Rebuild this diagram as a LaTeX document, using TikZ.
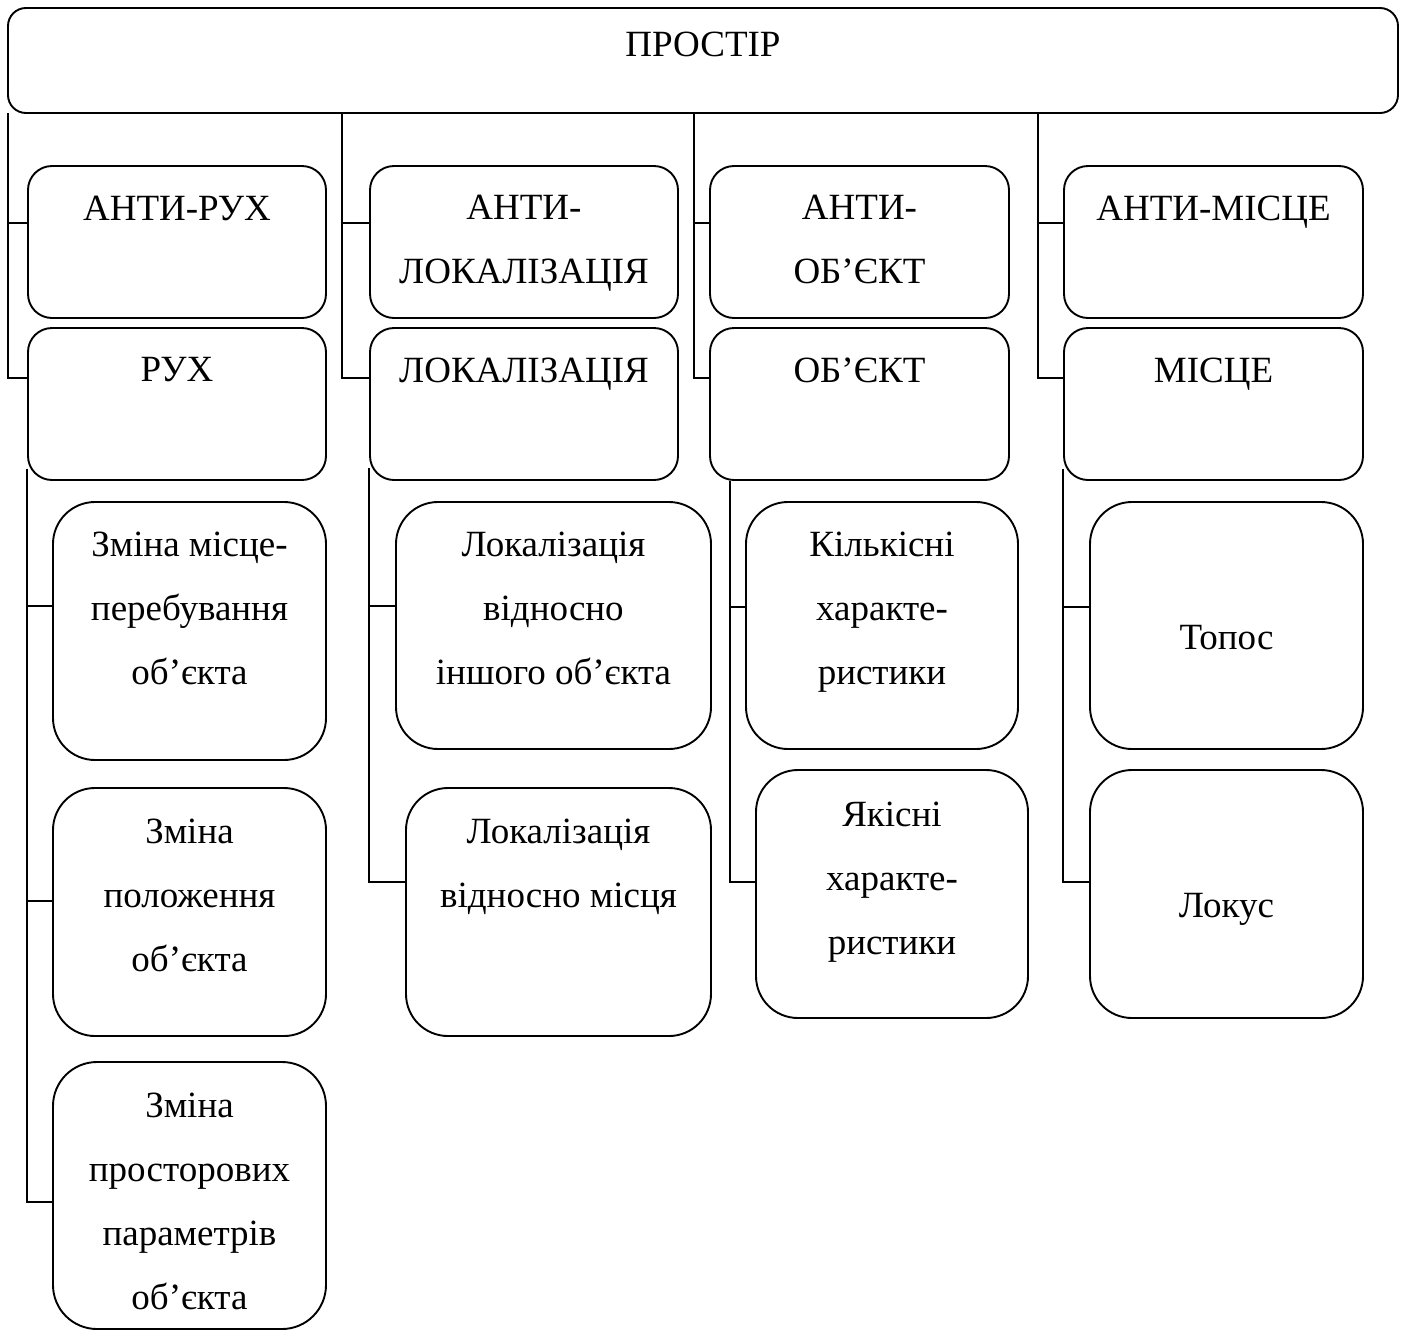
\documentclass[tikz,border=0pt]{standalone}
\usepackage{fontspec}
\setmainfont{Liberation Serif}
\usetikzlibrary{positioning,fit}

\tikzset{
  cell/.style={draw, line width=1.9pt, rounded corners=#1, inner sep=0pt},
  celltext/.style={font=\fontsize{37}{64}\selectfont, align=center, inner sep=0pt},
  link/.style={line width=1.9pt}
}

\begin{document}
\begin{tikzpicture}[x=1pt, y=-1pt]
  \useasboundingbox (0,0) rectangle (1408,1331);
  % boxes: name/left/top/right/bottom/radius/text drop/text
  \foreach \n/\xa/\ya/\xb/\yb/\r/\dy/\t in {
      top/8/8/1398/113/18pt/24.5pt/ПРОСТІР,
      antiruh/28/166/326/318/24pt/30.5pt/АНТИ-РУХ,
      ruh/28/328/326/480/24pt/30.5pt/РУХ,
      antiloc/370/166/678/318/24pt/30pt/{АНТИ-\\ЛОКАЛІЗАЦІЯ},
      loc/370/328/678/480/24pt/30.5pt/ЛОКАЛІЗАЦІЯ,
      antiobj/710/166/1009/318/24pt/30pt/{АНТИ-\\ОБ’ЄКТ},
      obj/710/328/1009/480/24pt/30.5pt/ОБ’ЄКТ,
      antimis/1064/166/1363/318/24pt/30.5pt/АНТИ-МІСЦЕ,
      mis/1064/328/1363/480/24pt/30.5pt/МІСЦЕ,
      ruh1/53/502/326/760/42pt/30.7pt/{Зміна місце-\\перебування\\об’єкта},
      ruh2/53/788/326/1036/42pt/31.7pt/{Зміна\\положення\\об’єкта},
      ruh3/53/1062/326/1329/44pt/31.7pt/{Зміна\\просторових\\параметрів\\об’єкта},
      loc1/396/502/711/749/42pt/30.7pt/{Локалізація\\відносно\\іншого об’єкта},
      loc2/406/788/711/1036/42pt/31.7pt/{Локалізація\\відносно місця},
      obj1/746/502/1018/749/42pt/30.7pt/{Кількісні\\характе-\\ристики},
      obj2/756/770/1028/1018/42pt/32.7pt/{Якісні\\характе-\\ристики},
      mis1/1090/502/1363/749/42pt/124.5pt/Топос,
      mis2/1090/770/1363/1018/42pt/124.5pt/Локус} {
    \node[cell=\r, fit={(\xa,\ya) (\xb,\yb)}] (\n) {};
    \node[celltext, below=\dy of \n.north] (\n-text) {\t};
  }

  % from the top box to the two boxes of each column
  \foreach \c/\x in {ruh/8,loc/342,obj/694,mis/1038} {
    \coordinate (drop-\c) at (\x,113);
    \draw[link] (drop-\c) |- ([yshift=-58pt]anti\c.north west);
    \draw[link] (drop-\c) |- ([yshift=-51pt]\c.north west);
  }

  % down to the lower boxes
  \coordinate (feed-ruh) at ([yshift=12pt]ruh.south west);
  \draw[link] (feed-ruh) |- ([yshift=-105pt]ruh1.north west);
  \draw[link] (feed-ruh) |- ([yshift=-114pt]ruh2.north west);
  \draw[link] (feed-ruh) |- ([yshift=-141pt]ruh3.north west);

  \coordinate (feed-loc) at ([yshift=13pt]loc.south west);
  \draw[link] (feed-loc) |- ([yshift=-105pt]loc1.north west);
  \draw[link] (feed-loc) |- ([yshift=-95pt]loc2.north west);

  \coordinate (feed-obj) at ([xshift=21pt]obj.south west);
  \draw[link] (feed-obj) |- ([yshift=-106pt]obj1.north west);
  \draw[link] (feed-obj) |- ([yshift=-113pt]obj2.north west);

  \coordinate (feed-mis) at ([yshift=12pt]mis.south west);
  \draw[link] (feed-mis) |- ([yshift=-106pt]mis1.north west);
  \draw[link] (feed-mis) |- ([yshift=-113pt]mis2.north west);
\end{tikzpicture}
\end{document}
